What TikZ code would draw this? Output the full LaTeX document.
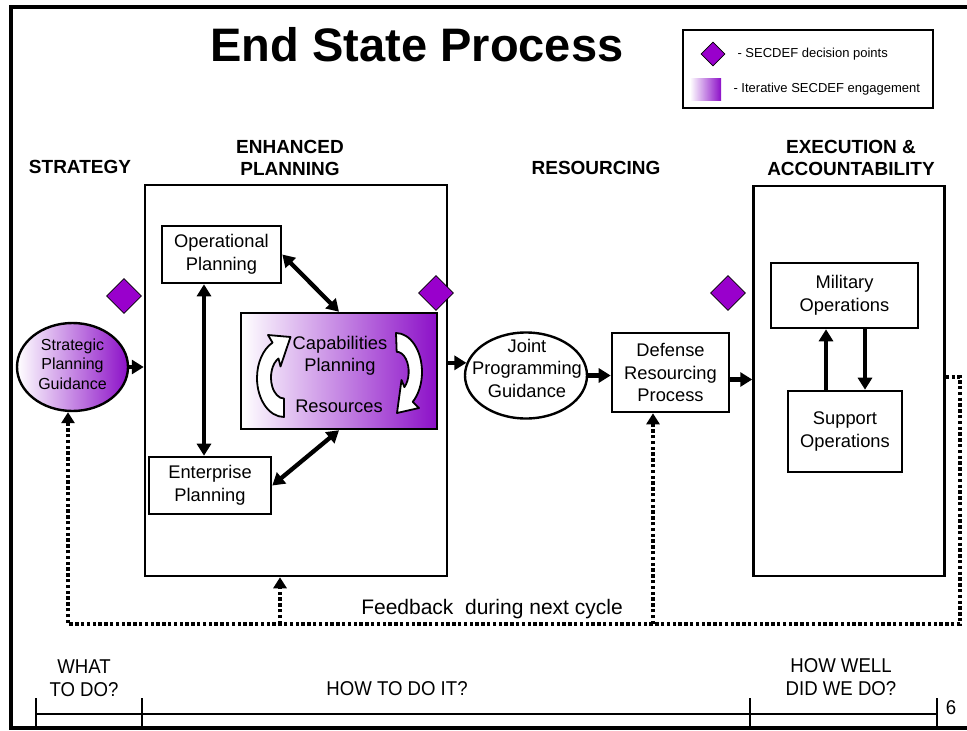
\documentclass[tikz,border=0pt]{standalone}
\usepackage{fontspec}
\setmainfont{Liberation Sans}
\newfontfamily\narrowfont[FakeStretch=0.93]{Liberation Sans}
\usetikzlibrary{shapes.geometric,arrows.meta,calc}
\definecolor{dpurple}{HTML}{9900CC}
\definecolor{gpurple}{HTML}{8C10C8}
\newcommand\myfs[2]{\fontsize{#1}{#2}\selectfont}
\begin{document}
\begin{tikzpicture}[x=1pt,y=-1pt,
  box/.style={draw, line width=2.6pt, align=center, font=\myfs{18.3}{22.5}, inner sep=0pt, fill=white},
  bigbox/.style={draw, line width=2.5pt, inner sep=0pt},
  head/.style={font=\bfseries\myfs{19}{22}, align=center},
  txt/.style={font=\myfs{18.3}{22.5}, align=center, inner sep=0pt},
  dmd/.style={diamond, draw, fill=dpurple, line width=0.7pt, inner sep=0pt},
  arr/.style={line width=4.3pt, -{Triangle[length=12pt,width=14pt]}},
  dbl/.style={line width=4.3pt, {Triangle[length=12pt,width=14pt]}-{Triangle[length=12pt,width=14pt]}},
  fb/.style={line width=4.2pt, dash pattern=on 3.5pt off 2.3pt},
  fbarr/.style={fb, -{Triangle[length=11pt,width=13pt]}},
  tl/.style={font=\narrowfont\myfs{20}{23}, align=center},
  curv/.style={draw, line width=1.8pt, fill=white, line join=round}
]
\useasboundingbox (0,0) rectangle (967,731);
% frame
\draw[line width=4.5pt] (967,7) -- (11,7) -- (11,728) -- (967,728);

% title
\node[font=\bfseries\myfs{47}{50}] (title) at (417,45) {End State Process};

% legend
\node[draw, line width=1.3pt, minimum width=250pt, minimum height=78pt] (leg) at (808,69) {};
\node[dmd, minimum width=24pt, minimum height=24pt] (ld) at (713,54) {};
\node[anchor=west, font=\myfs{13}{15}] (lt1) at (734,54) {- SECDEF decision points};
\node[left color=white, right color=gpurple, minimum width=31pt, minimum height=22pt, inner sep=0pt] (lg) at (705.5,89) {};
\node[anchor=west, font=\myfs{13}{15}] (lt2) at (730,89) {- Iterative SECDEF engagement};

% headings
\node[head] (h1) at (80,167) {STRATEGY};
\node[head] (h2) at (290,158) {ENHANCED\\PLANNING};
\node[head] (h3) at (596,168) {RESOURCING};
\node[head] (h4) at (851,158) {EXECUTION \&\\ACCOUNTABILITY};

% big boxes
\node[bigbox, minimum width=302pt, minimum height=391pt] (ep) at (296,380.5) {};
\node[bigbox, minimum width=191pt, minimum height=390pt] (ex) at (849,381) {};

% enhanced planning contents
\node[box, minimum width=119pt, minimum height=57pt] (op) at (221.5,254.5) {Operational\\Planning};
\node[box, minimum width=122pt, minimum height=57pt] (ent) at (210,485.5) {Enterprise\\Planning};
\node[draw, line width=2.5pt, minimum width=196pt, minimum height=116pt, inner sep=0pt, left color=white, right color=gpurple] (cap) at (339,371) {};
\node[txt] (captxt) at (340,356) {Capabilities\\Planning};
\node[txt] (restxt) at (339,406) {Resources};

% curved arrows in capabilities box
\draw[curv] (284,417) arc[start angle=90, end angle=245, x radius=27, y radius=39]
  -- (268,335) -- (290.5,337) -- (280.5,366.5) -- (278.5,358.5)
  arc[start angle=245, end angle=90, x radius=13, y radius=21] -- cycle;
\draw[curv] (396,333) arc[start angle=270, end angle=410, x radius=26, y radius=39]
  -- (419,408) -- (397,413) -- (401.5,380) -- (404.4,387.1)
  arc[start angle=410, end angle=270, x radius=12, y radius=20] -- cycle;

% strategic ellipse
\node[ellipse, draw, line width=2.4pt, minimum width=111pt, minimum height=88pt, inner sep=0pt, left color=white, right color=gpurple] (spg) at (72.5,367) {};
\node[font=\myfs{16}{19.5}, align=center, inner sep=0pt] (spgtxt) at (72.5,364) {Strategic\\Planning\\Guidance};

% joint ellipse
\node[ellipse, draw, line width=2.4pt, minimum width=122pt, minimum height=86pt, inner sep=0pt, fill=white] (jpg) at (526,375.5) {};
\node[txt] (jpgtxt) at (527,368) {Joint\\Programming\\Guidance};

% defense box
\node[box, minimum width=117pt, minimum height=79pt] (drp) at (670.5,372.5) {Defense\\Resourcing\\Process};

% execution contents
\node[box, minimum width=147pt, minimum height=65pt] (mil) at (844.5,295.5) {Military\\Operations};
\node[box, minimum width=114pt, minimum height=81pt] (sup) at (845,431.5) {Support\\Operations};

% diamonds
\node[dmd, minimum width=35pt, minimum height=35pt] (d1) at (124,296) {};
\node[dmd, minimum width=35pt, minimum height=35pt] (d2) at (436,293) {};
\node[dmd, minimum width=35pt, minimum height=35pt] (d3) at (728,293) {};

% connectors
\draw[arr] (spg.east) -- (ep.west |- spg.east);
\draw[arr] (ep.east |- jpg.168) -- (jpg.168);
\draw[arr] (jpg.east) -- (drp.west |- jpg.east);
\draw[arr] ($(drp.east)+(0,7)$) -- ($(ex.west |- drp.east)+(0,7)$);
\draw[dbl] (204,0 |- op.south) -- (204,0 |- ent.north);
\draw[dbl] (op.east) -- (cap.north);
\draw[dbl] (ent.east) -- (cap.south);
\draw[arr] (826,0 |- sup.north) -- (826,0 |- mil.south);
\draw[arr] (865,0 |- mil.south) -- (865,0 |- sup.north);

% feedback loop
\coordinate (fr1) at (960,377);
\coordinate (fr2) at (960,624);
\coordinate (fl) at (68,624);
\coordinate (fb1) at (280,624);
\coordinate (fb2) at (653,624);
\draw[fb] (ex.east |- fr1) -- (fr1) -- (fr2) -- (fl) -- (68,560);
\draw[fbarr] (68,565) -- (68,0 |- spg.south);
\draw[fbarr] (fb1) -- (280,0 |- ep.south);
\draw[fbarr] (fb2) -- (653,0 |- drp.south);
\node[font=\myfs{21}{22}] (fbtxt) at (492,609) {Feedback\ \ during next cycle};

% timeline
\draw[line width=2.2pt] (36,714) -- (937,714);
\foreach \xx in {36,142,750,937}{
  \draw[line width=1.6pt] (\xx,698) -- (\xx,727);
}
\node[tl] (w1) at (84,678) {WHAT\\TO DO?};
\node[tl] (w2) at (397,689) {HOW TO DO IT?};
\node[tl] (w3) at (841,677) {HOW WELL\\DID WE DO?};
\node[tl] (w4) at (951,708) {6};
\end{tikzpicture}
\end{document}
